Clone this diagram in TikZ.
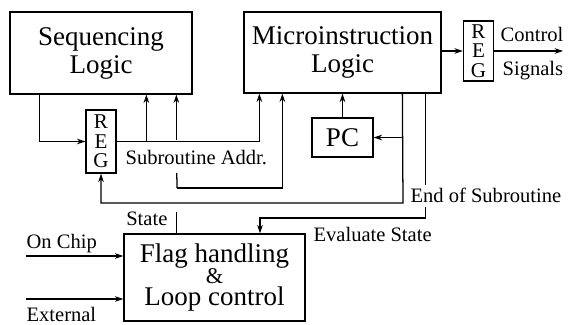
\documentclass[tikz,border=0pt]{standalone}
\usepackage{fontspec}
\setmainfont{Liberation Serif}
\usepackage{tikz}
\usetikzlibrary{%
  arrows.meta,%
  calc%
}
\tikzset{>={Stealth[length=12pt,width=8pt,inset=4pt]}, every path/.style = {line width=1.8pt},%
	block/.style = {draw, line width=1.8pt, align=center, inner sep=0pt,
	    font=\fontsize{38.4pt}{39.8pt}\selectfont},%
	regbox/.style = {draw, line width=1.8pt, align=center, inner sep=0pt,
	    minimum width=1.5cm, font=\fontsize{29.9pt}{27.7pt}\selectfont},%
	lbl/.style = {inner sep=0pt, font=\fontsize{29.2pt}{30pt}\selectfont}}

\begin{document}
\begin{tikzpicture}
        \useasboundingbox (0,0) rectangle (28.4,16.25);
        % blocks
        \node[block,minimum width=9.1cm,minimum height=4.1cm] (seq) at (5.05,13.6) {Sequencing\\Logic};
        \node[block,minimum width=9.85cm,minimum height=4.05cm] (micro) at (17.125,13.625) {Microinstruction\\Logic};
        \node[regbox,minimum height=3cm] (regA) at (23.925,13.7) {R\\E\\G};
        \node[regbox,minimum height=3.15cm] (regB) at (5.05,9.175) {R\\E\\G};
        \node[block,minimum width=3.05cm,minimum height=1.95cm] (pc) at (17.125,9.375) {PC};
        \node[block,minimum width=9.05cm,minimum height=4.35cm,
          font=\fontsize{38.4pt}{30pt}\selectfont] (flag) at (10.725,2.375)
          {Flag handling\\{\fontsize{32pt}{30pt}\selectfont\&}\\Loop control};
        % ports
        \coordinate (sa) at ($(seq.south west)+(1.5,0)$);
        \coordinate (sb) at ($(seq.south west)+(6.85,0)$);
        \coordinate (sc) at ($(seq.south west)+(8.35,0)$);
        \coordinate (ma) at ($(micro.south west)+(0.8,0)$);
        \coordinate (mb) at ($(micro.south west)+(1.95,0)$);
        \coordinate (mc) at ($(micro.south west)+(7.95,0)$);
        \coordinate (md) at ($(micro.south west)+(9.1,0)$);
        \coordinate (j) at (8.85,6.85);
        \coordinate (rc) at (20.15,6.1);
        \coordinate (ev) at (13,5.35);
        \coordinate (oc) at (1.3,3.45);
        \coordinate (ex) at (1.3,1.3);
        \coordinate (out) at (28.15,13.7);
        % sequencing / subroutine address
        \draw[->] (sa) |- (regB.west);
        \draw[->] (regB.east) -| (ma);
        \draw[->] (regB.east -| sb) -- (sb);
        \node[lbl,anchor=base west] (lsub) at (6.25,8.0) {Subroutine Addr.};
        % state
        \draw[->,shorten <=2.5pt] (regB.east -| sc) -- (sc);
        \draw[shorten >=1.575cm] (j) -- (regB.east -| sc);
        \draw[->] (j) -| (mb);
        \draw[shorten >=0.45cm] (flag.north -| sc) -- (rc -| sc);
        \node[lbl,anchor=base east] (lstate) at (8.4,4.95) {State};
        % pc and return
        \draw[->] (pc.north) -- (pc.north |- micro.south);
        \draw[->] (mc) -- (rc) -| (regB.south);
        \draw[->] (mc |- pc.east) -- (pc.east);
        % end of subroutine / evaluate
        \draw[->] (md) |- (ev) -- (ev |- flag.north);
        \node[lbl,anchor=base west,fill=white,inner xsep=0.1cm,inner ysep=0.2cm] (leos) at (20.4,6.1) {End of Subroutine};
        \node[lbl,anchor=base west] (leval) at (15.65,4.15) {Evaluate State};
        % output
        \draw[->] (regA.west -| micro.east) -- (regA.west);
        \draw[->] (regA.east) -- (out);
        \node[lbl,anchor=base west] (lctl) at (25.0,14.15) {Control};
        \node[lbl,anchor=base west] (lsig) at (25.1,12.45) {Signals};
        % flags in
        \draw[->] (oc) -- (oc -| flag.west);
        \draw[->] (ex) -- (ex -| flag.west);
        \node[lbl,anchor=base west] (lchip) at (1.3,3.8) {On Chip};
        \node[lbl,anchor=base west] (lext) at (1.3,0.2) {External};
      \end{tikzpicture}
\end{document}
